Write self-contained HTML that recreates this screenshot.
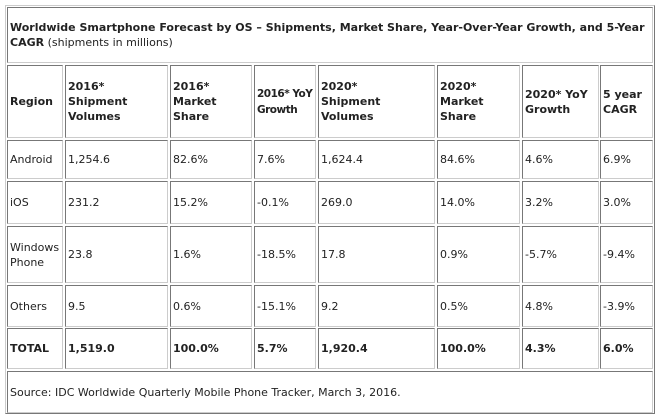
<!DOCTYPE html>
<html><head><meta charset="utf-8"><style>
body{margin:0;width:660px;height:420px;background:#fff;position:relative;font-family:"DejaVu Sans","Liberation Sans",sans-serif;font-size:11px;color:#222;overflow:hidden}
.o{position:absolute;left:5px;top:5px;width:648px;height:407px;border:1px solid;border-color:#ccc #777 #777 #ccc}
.c{position:absolute;box-sizing:border-box;border:1px solid;border-color:#777 #ccc #ccc #777;display:flex;align-items:center;padding-left:2px;line-height:15px;white-space:nowrap;overflow:hidden}
b{font-weight:bold}
.h{letter-spacing:-0.5px;font-size:10.5px}
</style></head><body>
<div class="o"></div>
<div class="c" style="left:7px;top:7px;width:646px;height:56px;font-size:11px"><div><b>Worldwide Smartphone Forecast by OS – Shipments, Market Share, Year-Over-Year Growth, and 5-Year</b><br><b>CAGR</b> (shipments in millions)</div></div>
<div id="t"></div>
<div class="c" style="left:7px;top:371px;width:646px;height:42px">Source: IDC Worldwide Quarterly Mobile Phone Tracker, March 3, 2016.</div>
<script>
var xs=[[7,56],[65,103],[170,82],[254,62],[318,117],[437,83],[522,77],[600,53]];
var ys=[[65,73],[140,39],[181,43],[226,57],[285,42],[328,41]];
var d=[["<b>Region</b>","<b>2016*<br>Shipment<br>Volumes</b>","<b>2016*<br>Market<br>Share</b>","<b class='h'>2016* YoY<br>Growth</b>","<b>2020*<br>Shipment<br>Volumes</b>","<b>2020*<br>Market<br>Share</b>","<b>2020* YoY<br>Growth</b>","<b>5 year<br>CAGR</b>"],
["Android","1,254.6","82.6%","7.6%","1,624.4","84.6%","4.6%","6.9%"],
["iOS","231.2","15.2%","-0.1%","269.0","14.0%","3.2%","3.0%"],
["Windows<br>Phone","23.8","1.6%","-18.5%","17.8","0.9%","-5.7%","-9.4%"],
["Others","9.5","0.6%","-15.1%","9.2","0.5%","4.8%","-3.9%"],
["<b>TOTAL</b>","<b>1,519.0</b>","<b>100.0%</b>","<b>5.7%</b>","<b>1,920.4</b>","<b>100.0%</b>","<b>4.3%</b>","<b>6.0%</b>"]];
var h="";
for(var r=0;r<6;r++)for(var c=0;c<8;c++){h+='<div class="c" style="left:'+xs[c][0]+'px;top:'+ys[r][0]+'px;width:'+xs[c][1]+'px;height:'+ys[r][1]+'px"><div>'+d[r][c]+'</div></div>';}
document.getElementById("t").innerHTML=h;
</script>
</body></html>
